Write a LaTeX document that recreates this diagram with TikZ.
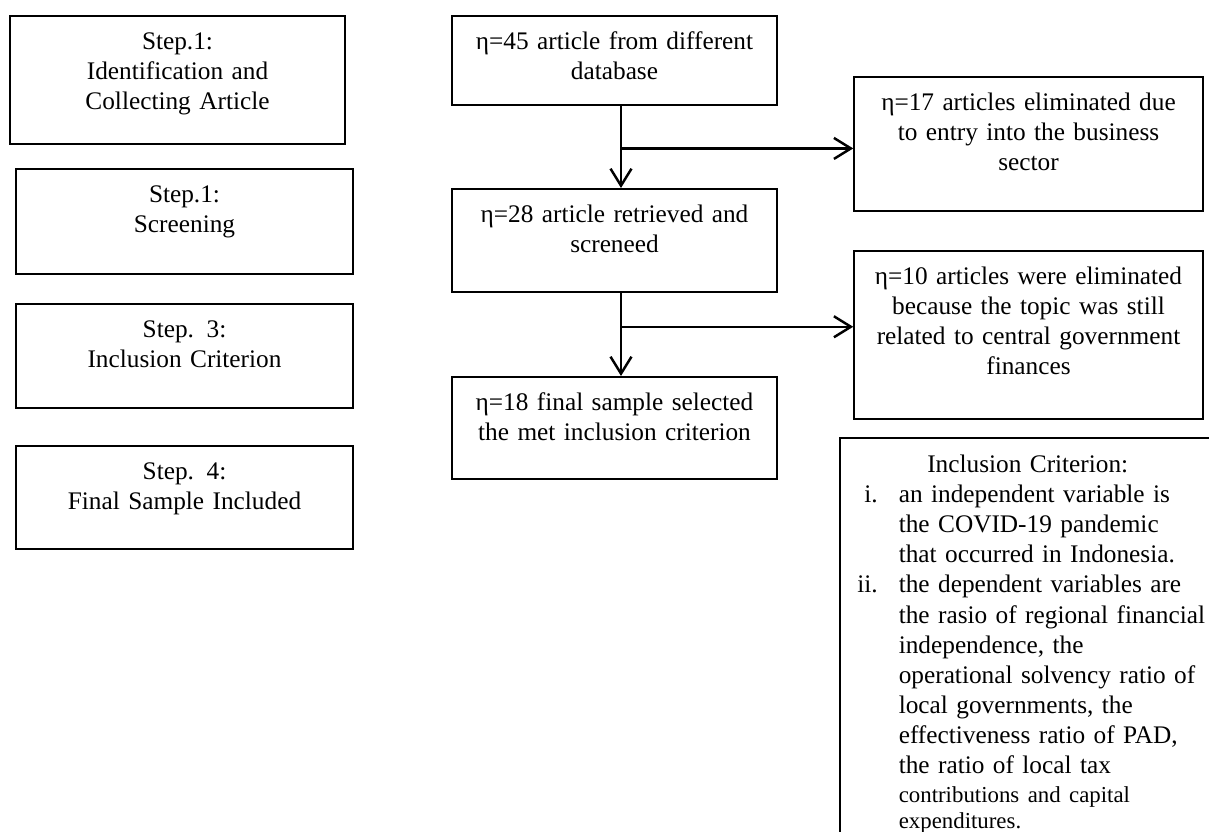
\documentclass[tikz,border=0pt]{standalone}
\usepackage{fontspec}
\setmainfont{Liberation Serif}
\usetikzlibrary{arrows.meta,calc}

\newcommand{\lbl}[1]{\makebox[0.76cm][r]{#1}\hspace{0.42cm}}
\newcommand{\ind}{\hspace*{1.18cm}}

\begin{document}
\begin{tikzpicture}[x=0.02cm,y=-0.02cm,
		box/.style={draw,line width=0.9pt,inner sep=0pt,anchor=north,align=center,text height=0.68cm,font=\fontsize{14.4}{17.1}\selectfont},
		arr/.style={line width=1.4pt,-{Straight Barb[length=0.34cm,width=0.42cm]}}]
	% 画布大小
	\useasboundingbox (0,0) rectangle (1209,831);
	\clip (0,0) rectangle (1209,831);
	% 左侧步骤框
	\node[box,text width=6.7cm,text depth=1.88cm] (s1) at (177.5,15) {Step.1:\\Identification and\\Collecting Article};
	\node[box,text width=6.74cm,text depth=1.42cm] (s2) at (184.5,168) {Step.1:\\Screening};
	\node[box,text width=6.74cm,text depth=1.40cm] (s3) at (184.5,303) {Step. 3:\\Inclusion Criterion};
	\node[box,text width=6.74cm,text depth=1.38cm] (s4) at (184.5,445) {Step. 4:\\Final Sample Included};
	% 中间流程
	\node[box,text width=6.5cm,text depth=1.10cm] (m1) at (614.5,15) {η=45 article from different\\database};
	\node[box,text width=6.5cm,text depth=1.38cm] (m2) at (614.5,188) {η=28 article retrieved and\\screneed};
	\node[box,text width=6.5cm,text depth=1.36cm] (m3) at (614.5,376) {η=18 final sample selected\\the met inclusion criterion};
	% 右侧排除框
	\node[box,text width=6.98cm,text depth=2.0cm] (r1) at (1028.5,76) {η=17 articles eliminated due\\to entry into the business\\sector};
	\node[box,text width=6.98cm,text depth=2.68cm] (r2) at (1028.5,250) {η=10 articles were eliminated\\because the topic was still\\related to central government\\finances};
	% 纳入标准
	\node[box,anchor=north west,align=left,text width=7.52cm,text height=0.7cm,text depth=8cm] (crit) at (839,437) {%
		\makebox[7.52cm][c]{Inclusion Criterion:}\\
		\lbl{i.}an independent variable is\\
		\ind the COVID-19 pandemic\\
		\ind that occurred in Indonesia.\\
		\lbl{ii.}the dependent variables are\\
		\ind the rasio of regional financial\\
		\ind independence, the\\
		\ind operational solvency ratio of\\
		\ind local governments, the\\
		\ind effectiveness ratio of PAD,\\
		\ind the ratio of local tax\par
		{\fontsize{13}{15}\selectfont\vspace{1.5pt}\ind contributions and capital\\\ind expenditures.\par}};
	% 箭头
	\draw[arr] ([xshift=0.13cm]m1.south) -- ([xshift=0.13cm]m2.north);
	\draw[arr] ([xshift=0.13cm]m2.south) -- ([xshift=0.13cm]m3.north);
	\coordinate (j1) at ($([xshift=0.13cm]m1.south)!0.52!([xshift=0.13cm]m2.north)$);
	\coordinate (j2) at ($([xshift=0.13cm]m2.south)!0.41!([xshift=0.13cm]m3.north)$);
	\draw[arr] (j1) -- (j1 -| r1.west);
	\draw[arr] (j2) -- (j2 -| r2.west);
\end{tikzpicture}
\end{document}
